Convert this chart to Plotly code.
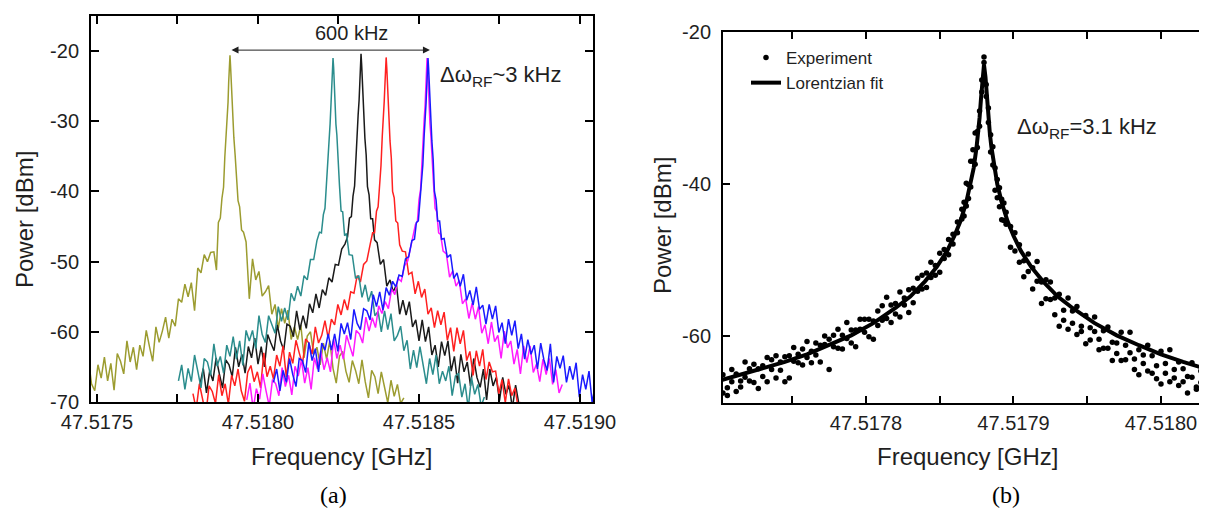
"""Two-panel RF beat-note figure.

(a) six spectrum-analyzer sweeps tuned across ~600 kHz,
(b) one sweep with its Lorentzian fit.
"""

import plotly.graph_objects as go

SANS = "Liberation Sans, Arial, sans-serif"
SERIF = "Liberation Serif, Times New Roman, serif"
INK = "#1f1f1f"

# ---------------------------------------------------------------- panel (a)
# frequency offset from each trace's own peak, kHz
offset_khz = [
    -600, -590, -580, -570, -560, -550, -540, -530, -520, -510,
    -500, -490, -480, -470, -460, -450, -440, -430, -420, -410,
    -400, -390, -380, -370, -360, -350, -340, -330, -320, -310,
    -300, -290, -280, -270, -260, -250, -240, -230, -220, -210,
    -200, -190, -180, -170, -160, -150, -140, -130, -120, -110,
    -100, -90, -80, -70, -60, -50,
    -42, -36, -30, -25, -20, -16, -12, -9, -6, -4, -2, 0,
    2, 4, 6, 9, 12, 16, 20, 25, 30, 36, 42,
    50, 60, 70, 80, 90, 100, 110, 120, 130, 140,
    150, 160, 170, 180, 190, 200, 210, 220, 230, 240,
    250, 260, 270, 280, 290, 300, 310, 320, 330, 340,
    350, 360, 370, 380, 390, 400, 410, 420, 430, 440,
    450, 460, 470, 480, 490, 500, 510, 520, 530, 540,
    550, 560,
]

# peak position of each sweep, kHz above 47.5175 GHz
base_ghz = 47.5175
peak_khz = {"olive": 413, "teal": 733, "black": 820, "red": 898, "magenta": 1025, "blue": 1028}

trace_colors = {
    "olive": "#9c9c30",
    "teal": "#2b8d8d",
    "black": "#1a1a1a",
    "red": "#ff2020",
    "magenta": "#ff1aff",
    "blue": "#1a1aff",
}

olive_dbm = [
    -68.1, -71.2, -68.5, -72.0, -66.9, -69.2, -66.0, -69.7, -71.9, -67.0,
    -65.6, -68.8, -67.7, -65.6, -69.6, -66.4, -63.8, -67.4, -68.4, -64.7,
    -66.6, -63.6, -67.0, -64.5, -68.3, -63.1, -64.2, -66.0, -61.3, -64.3,
    -62.2, -65.4, -61.9, -63.5, -59.8, -62.1, -64.2, -59.3, -61.5, -59.9,
    -57.9, -60.9, -58.2, -59.2, -55.3, -55.8, -53.2, -55.0, -53.0, -57.0,
    -50.9, -51.6, -49.0, -50.0, -48.7, -48.6,
    -51.2, -44.4, -43.8, -41.0, -39.4, -35.1, -32.5, -29.3, -27.3, -24.4, -22.1, -20.6,
    -22.3, -24.5, -27.4, -29.2, -32.3, -34.8, -37.6, -41.3, -42.2, -45.5, -45.8,
    -47.2, -55.3, -49.6, -52.6, -51.4, -54.9, -54.3, -53.4, -57.5, -56.1,
    -59.5, -56.7, -58.8, -56.9, -61.1, -59.3, -61.1, -59.0, -63.7, -60.6,
    -60.0, -63.2, -62.2, -64.7, -61.6, -63.9, -61.3, -65.2, -67.3, -63.5,
    -62.8, -65.6, -67.2, -64.1, -65.5, -67.4, -64.0, -67.1, -69.4, -65.5,
    -66.4, -68.8, -65.7, -67.9, -70.1, -66.9, -69.2, -67.5, -70.2, -69.4,
    None, None,
]

teal_dbm = [
    None, None, None, None, None, None, None, None, None, None,
    None, None, -67.0, -64.7, -68.2, -65.2, -67.1, -63.3, -65.6, -68.0,
    -63.8, -64.3, -66.2, -61.7, -64.9, -63.5, -65.9, -61.9, -63.5, -60.7,
    -63.9, -61.3, -64.8, -59.8, -61.3, -59.8, -62.4, -57.7, -60.4, -61.5,
    -57.7, -58.9, -60.2, -56.4, -58.5, -56.6, -58.3, -54.5, -55.6, -53.5,
    -54.9, -52.0, -52.6, -49.7, -49.7, -47.0,
    -45.8, -45.9, -43.3, -42.4, -38.9, -36.3, -32.3, -30.3, -27.3, -25.1, -22.5, -21.0,
    -22.4, -25.2, -27.2, -30.4, -32.0, -36.5, -39.1, -42.8, -42.9, -46.3, -46.0,
    -49.0, -49.1, -52.4, -52.0, -55.1, -53.3, -55.7, -54.2, -57.7, -57.1,
    -60.0, -57.0, -59.7, -57.4, -61.3, -60.5, -59.2, -62.7, -61.2, -65.3,
    -62.6, -65.1, -62.1, -64.5, -67.4, -63.8, -66.1, -63.3, -67.4, -65.6,
    -67.0, -64.9, -69.1, -66.3, -65.9, -69.3, -67.4, -70.9, -66.5, -68.9,
    -67.5, -70.6, -69.3, None, None, None, None, None, None, None,
    None, None,
]

black_dbm = [
    None, None, None, None, None, None, None, None, None, None,
    -67.5, -65.2, -68.7, -65.6, -67.0, -63.7, -66.0, -68.0, -64.0, -64.7,
    -66.4, -62.2, -65.0, -63.2, -65.9, -62.1, -63.7, -60.9, -64.6, -62.1,
    -65.0, -60.4, -61.6, -62.7, -59.0, -61.3, -62.6, -58.9, -59.2, -60.7,
    -57.0, -59.7, -57.7, -59.5, -56.0, -57.3, -54.6, -56.6, -54.0, -54.8,
    -52.3, -52.9, -50.4, -50.5, -48.2, -47.5,
    -46.5, -43.8, -43.6, -40.7, -39.2, -35.0, -32.1, -29.1, -27.0, -24.2, -21.9, -20.4,
    -22.0, -24.2, -27.2, -29.0, -32.4, -34.8, -39.3, -40.5, -43.9, -43.9, -46.9,
    -47.3, -50.4, -49.7, -53.5, -52.6, -54.3, -53.3, -57.5, -55.5, -57.6,
    -55.7, -59.3, -58.3, -61.3, -58.3, -61.4, -59.3, -63.3, -61.9, -65.0,
    -61.4, -63.4, -61.3, -65.6, -63.5, -67.3, -63.2, -65.7, -64.3, -67.7,
    -63.8, -66.5, -67.9, -65.3, -69.7, -65.3, -67.7, -66.5, -69.8, -66.5,
    -68.9, -67.6, -70.9, -67.6, -70.2, None, None, None, None, None,
    None, None,
]

red_dbm = [
    -68.8, -71.0, -67.4, -69.6, -71.8, -67.7, -68.5, -70.2, -66.1, -69.1,
    -67.4, -70.3, -66.2, -67.7, -65.3, -68.4, -69.9, -65.8, -64.8, -67.1,
    -65.7, -68.0, -63.0, -66.4, -64.9, -66.7, -63.3, -64.9, -62.0, -66.5,
    -62.9, -64.5, -61.2, -63.0, -64.6, -61.0, -61.6, -63.2, -59.3, -61.6,
    -60.5, -58.4, -60.9, -58.2, -59.0, -56.1, -57.6, -55.4, -56.9, -54.3,
    -54.5, -52.0, -52.9, -50.4, -49.9, -47.6,
    -45.9, -45.9, -42.8, -42.2, -38.9, -36.3, -32.1, -30.1, -27.2, -25.0, -22.3, -20.9,
    -22.4, -24.7, -27.7, -29.6, -32.8, -35.2, -40.0, -40.9, -44.2, -44.5, -47.6,
    -48.5, -48.6, -51.8, -51.5, -54.6, -52.8, -55.1, -53.9, -57.5, -56.6,
    -59.4, -57.0, -59.0, -57.2, -61.2, -59.4, -62.8, -59.4, -61.7, -59.8,
    -64.1, -62.8, -66.2, -62.7, -64.9, -62.5, -66.8, -64.3, -65.7, -65.6,
    -68.8, -66.8, -70.1, -66.7, -69.1, -68.0, -70.8, -70.0, None, None,
    None, None, None, None, None, None, None, None, None, None,
    None, None,
]

magenta_dbm = [
    None, None, None, None, -69.7, -67.3, -71.0, -68.1, -69.6, -66.0,
    -68.4, -70.6, -66.8, -67.4, -69.1, -65.1, -67.8, -66.2, -69.0, -64.9,
    -66.3, -64.0, -67.3, -65.1, -68.2, -63.7, -65.3, -62.7, -65.4, -63.7,
    -65.7, -61.0, -63.8, -61.9, -63.9, -60.5, -62.0, -63.5, -59.8, -60.3,
    -61.6, -57.9, -59.9, -58.0, -59.4, -56.3, -57.4, -55.7, -56.7, -53.9,
    -54.7, -52.4, -52.8, -50.6, -49.9, -47.6,
    -46.3, -44.7, -44.3, -41.2, -39.7, -35.5, -32.8, -29.8, -27.7, -24.9, -22.5, -21.0,
    -22.5, -25.1, -27.3, -30.3, -32.1, -36.2, -38.8, -42.4, -42.9, -45.9, -46.1,
    -48.5, -48.9, -52.2, -51.3, -53.5, -52.7, -56.0, -55.3, -58.1, -55.9,
    -58.2, -56.4, -60.2, -59.0, -61.7, -58.6, -61.4, -60.5, -63.8, -59.9,
    -62.3, -61.3, -64.6, -62.5, -66.0, -62.0, -64.4, -62.0, -65.8, -64.6,
    -67.1, -63.9, -66.1, -63.8, -67.5, -65.4, -68.7, -67.5, None, None,
    None, None, None, None, None, None, None, None, None, None,
    None, None,
]

blue_dbm = [
    None, None, None, None, None, None, None, None, None, None,
    None, None, -67.2, -65.3, -68.4, -65.5, -67.2, -63.8, -66.1, -67.8,
    -63.8, -64.1, -65.8, -61.5, -64.1, -62.4, -65.7, -61.6, -62.6, -60.3,
    -62.6, -60.3, -62.8, -58.8, -60.3, -58.7, -61.1, -56.8, -58.8, -59.7,
    -56.7, -57.0, -58.3, -54.7, -56.4, -54.3, -56.9, -53.7, -54.8, -52.8,
    -53.6, -51.9, -52.1, -49.6, -49.3, -47.0,
    -46.8, -44.4, -44.2, -41.5, -39.2, -36.2, -32.1, -30.1, -27.4, -25.2, -22.4, -21.0,
    -22.6, -24.8, -27.7, -29.6, -32.8, -35.4, -40.0, -41.2, -44.2, -44.2, -46.8,
    -46.7, -49.4, -49.0, -52.4, -51.6, -53.5, -51.8, -55.5, -54.1, -56.2,
    -53.6, -56.8, -56.2, -58.9, -56.1, -58.2, -56.3, -60.1, -58.7, -61.7,
    -58.2, -60.5, -58.4, -62.4, -60.3, -63.9, -61.1, -63.2, -61.9, -65.3,
    -61.6, -64.0, -65.5, -61.7, -67.2, -63.5, -65.2, -63.4, -67.2, -64.9,
    -66.8, -64.4, -69.3, -66.1, -68.2, -65.6, -70.2, -67.1, -66.4, -69.8,
    -67.9, -69.4,
]

sweeps_a = {
    "olive": olive_dbm,
    "black": black_dbm,
    "red": red_dbm,
    "teal": teal_dbm,
    "magenta": magenta_dbm,
    "blue": blue_dbm,
}

a_xticks = [47.5175, 47.5180, 47.5185, 47.5190]
a_xlabels = ["47.5175", "47.5180", "47.5185", "47.5190"]
a_xminor = [47.51775, 47.51825, 47.51875]
a_yticks = [-70, -60, -50, -40, -30, -20]
a_ylabels = ["-70", "-60", "-50", "-40", "-30", "-20"]

# ---------------------------------------------------------------- panel (b)
peak_b_ghz = 47.51788

# measured points: offset from peak (kHz), two readings per frequency bin
exp_khz = [
    -177, -174, -171, -168, -165, -162, -159, -156, -153, -150,
    -147, -144, -141, -138, -135, -132, -129, -126, -123, -120,
    -117, -114, -111, -108, -105, -102, -99, -96, -93, -90,
    -87, -84, -81, -78, -75, -72, -69, -66, -63, -60,
    -57, -54, -51, -48, -45, -42, -39, -36, -33, -30,
    -27, -24, -21, -18, -15,
    -13.5, -12, -10.5, -9, -7.5, -6, -4.5, -3, -1.5, 0,
    1.5, 3, 4.5, 6, 7.5, 9, 10.5, 12, 13.5,
    15, 18, 21, 24, 27, 30, 33, 36, 39, 42,
    45, 48, 51, 54, 57, 60, 63, 66, 69, 72,
    75, 78, 81, 84, 87, 90, 93, 96, 99, 102,
    105, 108, 111, 114, 117, 120, 123, 126, 129, 132,
    135, 138, 141, 144, 147, 150,
]

exp_dbm_a = [
    -65.1, -66.8, -64.4, -67.3, -65.9, -63.4, -65.9, -63.7, -66.9, -63.9,
    -62.8, -64.4, -65.5, -63.4, -66.0, -65.5, -61.5, -63.5, -61.7, -62.8,
    -63.5, -60.9, -63.4, -61.1, -64.4, -59.9, -61.6, -59.9, -58.2, -60.9,
    -59.2, -57.8, -59.5, -57.8, -60.4, -56.7, -57.9, -54.9, -58.2, -55.7,
    -54.2, -55.9, -53.9, -55.6, -52.4, -53.8, -51.7, -50.3, -52.0, -49.1,
    -49.8, -47.3, -47.9, -45.0, -44.6,
    -42.4, -39.9, -41.9, -37.0, -37.0, -37.4, -33.1, -30.4, -26.3, -23.3,
    -26.9, -31.9, -33.5, -37.5, -37.9, -41.8, -40.5, -44.7, -42.5,
    -45.3, -48.3, -46.4, -50.3, -50.1, -49.2, -53.8, -50.2, -55.7, -52.6,
    -55.2, -57.2, -58.7, -56.6, -55.0, -58.3, -59.8, -58.7, -57.3, -60.5,
    -59.4, -61.8, -59.3, -61.6, -63.2, -60.9, -59.5, -63.1, -62.2, -64.4,
    -61.8, -63.6, -61.2, -64.9, -63.9, -66.3, -63.6, -61.8, -65.5, -66.5,
    -64.3, -67.5, -65.4, -66.7, -64.6, -67.7,
]

exp_dbm_b = [
    -67.5, -67.8, -66.0, -65.0, -66.7, -65.4, -64.3, -66.1, -64.3, -65.3,
    -66.0, -63.1, -62.6, -64.5, -62.7, -62.6, -63.3, -62.4, -63.8, -60.7,
    -62.0, -62.5, -61.2, -60.0, -60.4, -61.4, -59.1, -61.7, -60.3, -59.2,
    -61.4, -59.1, -57.8, -60.1, -58.0, -58.6, -56.0, -57.7, -55.9, -57.1,
    -57.5, -55.0, -56.9, -53.7, -54.1, -52.0, -53.6, -52.3, -50.7, -51.6,
    -48.6, -49.3, -46.6, -46.4, -43.3,
    -44.2, -42.9, -40.1, -40.4, -35.5, -33.3, -35.2, -32.4, -27.9, -24.0,
    -28.5, -30.0, -35.8, -35.1, -40.8, -39.4, -43.0, -42.0, -44.8,
    -43.7, -45.6, -48.8, -48.0, -52.2, -51.5, -51.0, -52.8, -52.9, -55.1,
    -52.9, -55.0, -54.5, -57.9, -59.1, -56.7, -56.1, -59.4, -61.0, -58.9,
    -57.5, -60.4, -61.6, -58.8, -60.8, -62.3, -63.2, -61.2, -59.5, -63.0,
    -65.1, -62.5, -64.6, -62.6, -65.6, -62.0, -64.9, -66.0, -64.4, -63.4,
    -66.0, -65.3, -63.5, -67.0, -66.1, -65.6,
]

# Lorentzian fit curve
fit_khz = [
    -180, -165, -150, -135, -120, -105, -90, -75, -60, -50,
    -40, -32, -25, -20, -16, -12, -9, -7, -5, -4, -3, -2, -1, 0,
    1, 2, 3, 4, 5, 7, 9, 12, 16, 20, 25, 32,
    40, 50, 60, 75, 90, 105, 120, 135, 152,
]
fit_dbm = [
    -65.9, -65.1, -64.3, -63.4, -62.4, -61.2, -59.9, -58.3, -56.3, -54.8,
    -52.8, -50.9, -48.8, -46.8, -44.9, -42.4, -40.0, -37.9, -35.1, -33.4, -31.3, -28.7, -25.9, -24.3,
    -25.9, -28.7, -31.3, -33.4, -35.1, -37.9, -40.0, -42.4, -44.9, -46.8, -48.8, -50.9,
    -52.8, -54.8, -56.3, -58.3, -59.9, -61.2, -62.4, -63.4, -64.4,
]

b_xticks = [47.5178, 47.5179, 47.5180]
b_xlabels = ["47.5178", "47.5179", "47.5180"]
b_xminor = [47.51775, 47.51785, 47.51795]
b_yticks = [-60, -40, -20]
b_ylabels = ["-60", "-40", "-20"]

for name, values in sweeps_a.items():
    assert len(values) == len(offset_khz), name
assert len(exp_dbm_a) == len(exp_khz) == len(exp_dbm_b)
assert len(fit_dbm) == len(fit_khz)

# the page body adds an 8 px offset, so target pixels are shifted back by it
PAGE_PAD = 8


def px_x(px):
    return (px - PAGE_PAD) / 1207


def px_y(px):
    return 1 - (px - PAGE_PAD) / 516


def axis_style(ticklen=8, **extra):
    style = dict(
        showline=True,
        linecolor="black",
        linewidth=2,
        mirror="ticks",
        ticks="inside",
        ticklen=ticklen,
        tickwidth=2,
        tickcolor="black",
        showgrid=False,
        zeroline=False,
        automargin=False,
        tickfont=dict(family=SANS, size=20, color=INK),
    )
    style.update(extra)
    return style


def minor_ticks(vals, ticklen):
    return dict(
        tickvals=vals,
        ticks="inside",
        ticklen=ticklen,
        tickwidth=2,
        tickcolor="black",
        showgrid=False,
    )


def main():
    fig = go.Figure()

    # panel (a): one line per sweep
    for name, values in sweeps_a.items():
        freq = [base_ghz + (peak_khz[name] + k) / 1e6 for k in offset_khz]
        fig.add_trace(
            go.Scatter(
                x=freq,
                y=values,
                mode="lines",
                line=dict(color=trace_colors[name], width=1.5),
                xaxis="x",
                yaxis="y",
                showlegend=False,
                hoverinfo="skip",
            )
        )

    # panel (b): scattered points and the fit
    exp_freq = [peak_b_ghz + k / 1e6 for k in exp_khz]
    fig.add_trace(
        go.Scatter(
            x=exp_freq + exp_freq,
            y=exp_dbm_a + exp_dbm_b,
            mode="markers",
            marker=dict(color="black", size=5.5),
            name="Experiment",
            xaxis="x2",
            yaxis="y2",
        )
    )
    fig.add_trace(
        go.Scatter(
            x=[peak_b_ghz + k / 1e6 for k in fit_khz],
            y=fit_dbm,
            mode="lines",
            line=dict(color="black", width=4),
            name="Lorentzian fit",
            xaxis="x2",
            yaxis="y2",
        )
    )

    notes = [
        dict(text="Power [dBm]", x=px_x(24), y=px_y(220), textangle=-90, size=24),
        dict(text="Frequency [GHz]", x=px_x(341), y=px_y(456), size=24),
        dict(text="Power [dBm]", x=px_x(662), y=px_y(226), textangle=-90, size=24),
        dict(text="Frequency [GHz]", x=px_x(967), y=px_y(456), size=24),
        dict(text="600 kHz", x=px_x(351), y=px_y(33), size=20),
        dict(text="Δω<sub>RF</sub>~3 kHz", x=px_x(438), y=px_y(76), size=22, xanchor="left"),
        dict(text="Δω<sub>RF</sub>=3.1 kHz", x=px_x(1015), y=px_y(128), size=22, xanchor="left"),
    ]
    for n in notes:
        fig.add_annotation(
            text=n["text"],
            x=n["x"],
            y=n["y"],
            xref="paper",
            yref="paper",
            xanchor=n.get("xanchor", "center"),
            yanchor="middle",
            textangle=n.get("textangle", 0),
            showarrow=False,
            font=dict(family=SANS, size=n["size"], color=INK),
        )
    for label, cx in (("(a)", 333), ("(b)", 1006)):
        fig.add_annotation(
            text=label,
            x=px_x(cx),
            y=px_y(495),
            xref="paper",
            yref="paper",
            xanchor="center",
            yanchor="middle",
            showarrow=False,
            font=dict(family=SERIF, size=24, color="black"),
        )

    # 600 kHz span arrow between the outermost peaks
    fig.add_annotation(
        text="",
        x=base_ghz + peak_khz["magenta"] / 1e6 + 0.000009,
        y=-19.86,
        ax=base_ghz + peak_khz["olive"] / 1e6,
        ay=-19.86,
        xref="x",
        yref="y",
        axref="x",
        ayref="y",
        showarrow=True,
        arrowhead=2,
        arrowside="end+start",
        arrowsize=1.4,
        arrowwidth=1,
        arrowcolor=INK,
    )

    fig.update_layout(
        width=1207,
        height=516,
        margin=dict(l=0, r=0, t=0, b=0, autoexpand=False),
        paper_bgcolor="white",
        plot_bgcolor="white",
        font=dict(family=SANS, size=20, color=INK),
        xaxis=axis_style(
            domain=[px_x(91), px_x(593)],
            range=[47.5174814, 47.5190404],
            tickvals=a_xticks,
            ticktext=a_xlabels,
            minor=minor_ticks(a_xminor, 8),
            ticklabelstandoff=1,
            anchor="y",
        ),
        yaxis=axis_style(
            domain=[px_y(402), px_y(16)],
            range=[-70, -15],
            tickvals=a_yticks,
            ticktext=a_ylabels,
            ticklabelstandoff=6,
            anchor="x",
        ),
        xaxis2=axis_style(
            ticklen=7,
            domain=[px_x(723), px_x(1207)],
            range=[47.51770305, 47.5180312],
            tickvals=b_xticks,
            ticktext=b_xlabels,
            minor=minor_ticks(b_xminor, 7),
            ticklabelstandoff=1,
            anchor="y2",
        ),
        yaxis2=axis_style(
            ticklen=7,
            domain=[px_y(403), px_y(32)],
            range=[-68.8, -20],
            tickvals=b_yticks,
            ticktext=b_ylabels,
            ticklabelstandoff=6,
            anchor="x2",
        ),
        legend=dict(
            x=px_x(746),
            y=px_y(40),
            xanchor="left",
            yanchor="top",
            bgcolor="rgba(0,0,0,0)",
            font=dict(family=SANS, size=17, color=INK),
            tracegroupgap=0,
        ),
    )

    fig.write_html("out.html")


if __name__ == "__main__":
    main()
